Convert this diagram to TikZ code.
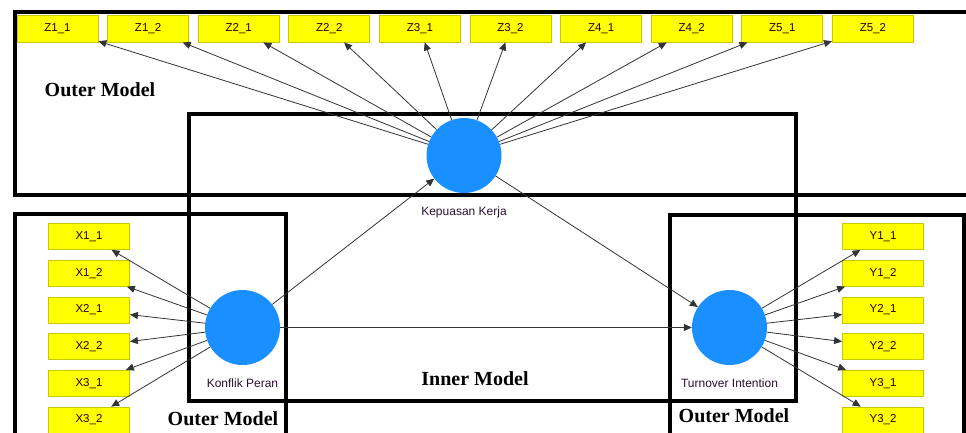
\documentclass[tikz,border=0pt]{standalone}
\usepackage{fontspec}
\setmainfont{Liberation Serif}
\setsansfont{Liberation Sans}
\usetikzlibrary{arrows.meta}
\definecolor{boxyellow}{HTML}{FFFF00}
\definecolor{boxedge}{HTML}{C8C800}
\definecolor{latblue}{HTML}{1A8FFF}
\definecolor{labtext}{HTML}{2A1030}
\definecolor{linkgray}{HTML}{333333}
\tikzset{
  indbox/.style={draw=boxedge, line width=0.8pt, fill=boxyellow, minimum width=81pt, minimum height=27pt, inner sep=0pt, font=\sffamily\fontsize{11.5}{12}\selectfont, text=black!85!red},
  latent/.style={circle, fill=latblue, minimum size=75pt, inner sep=0pt},
  latlabel/.style={font=\sffamily\fontsize{12}{13}\selectfont, text=labtext},
  region/.style={draw=black, line width=4pt},
  regionlabel/.style={font=\rmfamily\bfseries\fontsize{20}{22}\selectfont},
  link/.style={draw=linkgray, line width=0.8pt, -{Triangle[length=8pt,width=7pt]}, shorten >=0pt}
}
\begin{document}
\begin{tikzpicture}[x=1pt,y=-1pt]
\useasboundingbox (0,0) rectangle (966,432);
\begin{scope}
\clip (0,0) rectangle (966,432);
% regions
\draw[region] (14.5,12) rectangle (980,195);
\draw[region] (189,113.5) rectangle (796,400.5);
\draw[region] (15,213.5) rectangle (286,450);
\draw[region] (669.5,215) rectangle (964,450);
\end{scope}
% region labels
\node[regionlabel] (olt) at (100,90) {Outer Model};
\node[regionlabel] (inner) at (475,379) {Inner Model};
\node[regionlabel] (olb) at (223,419) {Outer Model};
\node[regionlabel] (orb) at (734,416) {Outer Model};
% latent variables
\node[latent] (kk) at (464,155.5) {};
\node[latent] (kp) at (242.5,327.5) {};
\node[latent] (ti) at (729.5,327.5) {};
\node[latlabel] (kkl) at (464,212) {Kepuasan Kerja};
\node[latlabel] (kpl) at (242.5,383) {Konflik Peran};
\node[latlabel] (til) at (729.5,383) {Turnover Intention};
% top indicators
\foreach \n [count=\i from 0] in {Z1_1,Z1_2,Z2_1,Z2_2,Z3_1,Z3_2,Z4_1,Z4_2,Z5_1,Z5_2} {
  \node[indbox] (z\i) at ({57.5+90.6*\i},28.5) {\detokenize\expandafter{\n}};
}
% left indicators
\foreach \n [count=\i from 0] in {X1_1,X1_2,X2_1,X2_2,X3_1,X3_2} {
  \node[indbox, minimum height=26pt] (x\i) at (89,{236.5+36.7*\i}) {\detokenize\expandafter{\n}};
}
% right indicators
\foreach \n [count=\i from 0] in {Y1_1,Y1_2,Y2_1,Y2_2,Y3_1,Y3_2} {
  \node[indbox, minimum height=26pt] (y\i) at (883,{236.5+36.7*\i}) {\detokenize\expandafter{\n}};
}
% links
\foreach \i in {0,...,9} { \draw[link] (kk) -- (z\i); }
\foreach \i in {0,...,5} { \draw[link] (kp) -- (x\i); }
\foreach \i in {0,...,5} { \draw[link] (ti) -- (y\i); }
\draw[link] (kp) -- (kk);
\draw[link] (kk) -- (ti);
\draw[link] (kp) -- (ti);
\end{tikzpicture}
\end{document}
